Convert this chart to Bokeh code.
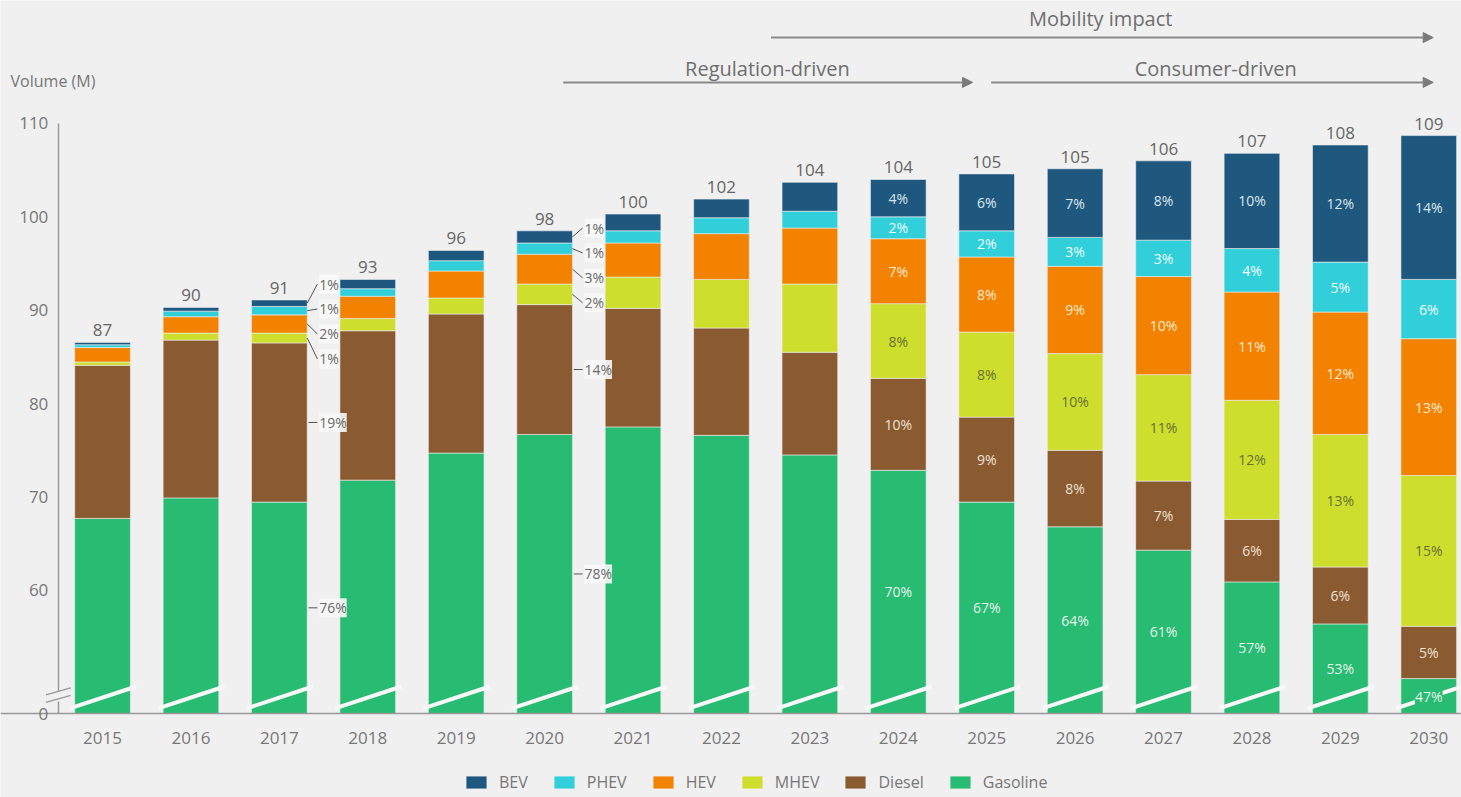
import numpy as np
from bokeh.plotting import figure
from bokeh.models import (Range1d, FixedTicker, Legend, LegendItem, LabelSet, LinearAxis,
                          ColumnDataSource, Arrow, NormalHead, Label)
from bokeh.core.properties import value
from bokeh.embed import file_html
from bokeh.resources import INLINE

# ---------------- data (volumes in millions) ----------------
years = list(range(2015, 2031))
gasoline = [67.7, 69.9, 69.45, 71.8, 74.7, 76.7, 77.5, 76.6, 74.5, 72.85, 69.45, 66.8, 64.3, 60.9, 56.4, 50.55]
diesel = [16.4, 16.9, 17.05, 16.0, 14.9, 13.9, 12.7, 11.5, 11.0, 9.85, 9.1, 8.2, 7.4, 6.7, 6.1, 5.6]
mhev = [0.35, 0.75, 1.05, 1.3, 1.7, 2.2, 3.35, 5.2, 7.3, 8.0, 9.1, 10.35, 11.4, 12.75, 14.2, 16.15]
hev = [1.55, 1.75, 1.95, 2.4, 2.9, 3.2, 3.65, 4.9, 6.0, 6.95, 8.05, 9.35, 10.5, 11.6, 13.1, 14.65]
phev = [0.3, 0.6, 0.9, 0.8, 1.1, 1.2, 1.3, 1.7, 1.8, 2.35, 2.8, 3.1, 3.9, 4.65, 5.35, 6.35]
bev = [0.25, 0.4, 0.7, 1.0, 1.1, 1.3, 1.8, 2.0, 3.1, 4.0, 6.1, 7.35, 8.5, 10.2, 12.55, 15.4]
totals = [87, 90, 91, 93, 96, 98, 100, 102, 104, 104, 105, 105, 106, 107, 108, 109]

series_names = ["Gasoline", "Diesel", "MHEV", "HEV", "PHEV", "BEV"]
legend_order = ["BEV", "PHEV", "HEV", "MHEV", "Diesel", "Gasoline"]

pct_years = [2024, 2025, 2026, 2027, 2028, 2029, 2030]
pct_bev = ["4%", "6%", "7%", "8%", "10%", "12%", "14%"]
pct_phev = ["2%", "2%", "3%", "3%", "4%", "5%", "6%"]
pct_hev = ["7%", "8%", "9%", "10%", "11%", "12%", "13%"]
pct_mhev = ["8%", "8%", "10%", "11%", "12%", "13%", "15%"]
pct_diesel = ["10%", "9%", "8%", "7%", "6%", "6%", "5%"]
pct_gasoline = ["70%", "67%", "64%", "61%", "57%", "53%", "47%"]

callout_years = [2017, 2020]
call_bev = ["1%", "1%"]
call_phev = ["1%", "1%"]
call_hev = ["2%", "3%"]
call_mhev = ["1%", "2%"]
call_diesel = ["19%", "14%"]
call_gasoline = ["76%", "78%"]

yticks = [60, 70, 80, 90, 100, 110]

# ---------------- style ----------------
BREAK = 46.8            # axis origin (axis is broken: shown as "0")
FONT = "Open Sans"
BG = "#f0f0f0"
GRAY = "#777777"
colors = {"Gasoline": "#28bb72", "Diesel": "#8a5a30", "MHEV": "#cddf2c",
          "HEV": "#f38200", "PHEV": "#30cfda", "BEV": "#1f587f"}
text_colors = {"Gasoline": "#e3f6ea", "Diesel": "#efe2d4", "MHEV": "#6a7032",
               "HEV": "#fde9d0", "PHEV": "#eefcfd", "BEV": "#dbe5ee"}

p = figure(frame_width=1461, frame_height=797,
           x_range=Range1d(2013.846, 2030.37), y_range=Range1d(37.81, 123.17),
           output_backend="svg", toolbar_location=None,
           background_fill_color=BG, border_fill_color=BG,
           min_border_left=0, min_border_right=0, min_border_top=0, min_border_bottom=0,
           outline_line_color=None, x_axis_type=None, y_axis_type=None)
p.grid.visible = False

xaxis = LinearAxis(ticker=FixedTicker(ticks=years), fixed_location=BREAK,
                   major_label_overrides={y: str(y) for y in years})
yaxis = LinearAxis(ticker=FixedTicker(ticks=[BREAK] + yticks), fixed_location=2014.5,
                   major_label_overrides={BREAK: "0"}, bounds=(BREAK, 110))
for ax in (xaxis, yaxis):
    ax.axis_line_color = "#999999"
    ax.axis_line_width = 1.5
    ax.major_tick_line_color = None
    ax.minor_tick_line_color = None
    ax.major_tick_out = 0
    ax.major_tick_in = 0
    ax.major_label_text_font = FONT
    ax.major_label_text_font_size = "17px"
    ax.major_label_text_color = GRAY
xaxis.major_label_standoff = 18
yaxis.major_label_standoff = 10
p.add_layout(xaxis, "below")
p.add_layout(yaxis, "left")

# stacked bars (gasoline starts at the broken-axis origin)
stack = np.vstack([gasoline, diesel, mhev, hev, phev, bev])
tops = np.cumsum(stack, axis=0)
bottoms = tops - stack
bottoms[0] = np.maximum(bottoms[0], BREAK)
mids = (tops + bottoms) / 2

rmap = {}
for si, name in enumerate(series_names):
    src = ColumnDataSource(dict(x=years, bottom=bottoms[si], top=tops[si]))
    rmap[name] = p.vbar(x="x", bottom="bottom", top="top", width=0.63, source=src,
                        fill_color=colors[name], line_color=BG, line_width=0.6)

# axis-break stripes across the bars
yr = np.array(years, dtype=float)
p.segment(x0=yr - 0.37, y0=BREAK + 0.55, x1=yr + 0.38, y1=BREAK + 2.9,
          line_color="#f8f8f8", line_width=4)

# totals above bars
tot_src = ColumnDataSource(dict(x=years, y=tops[-1], t=[str(t) for t in totals]))
p.add_layout(LabelSet(x="x", y="y", text="t", source=tot_src, y_offset=6,
                      text_align="center", text_baseline="bottom",
                      text_font=value(FONT), text_font_size="17px", text_color="#666666"))

# percent labels inside bars
pct = {"BEV": pct_bev, "PHEV": pct_phev, "HEV": pct_hev, "MHEV": pct_mhev,
       "Diesel": pct_diesel, "Gasoline": pct_gasoline}
for si, name in enumerate(series_names):
    lx, ly, lt = [], [], []
    for j, yv in enumerate(pct_years):
        idx = years.index(yv)
        lx.append(yv); ly.append(mids[si, idx]); lt.append(pct[name][j])
    p.add_layout(LabelSet(x="x", y="y", text="t", source=ColumnDataSource(dict(x=lx, y=ly, t=lt)),
                          text_color=text_colors[name], text_align="center", text_baseline="middle",
                          background_fill_color=colors[name] if name == "Gasoline" else None,
                          text_font=value(FONT), text_font_size="14px"))

# callouts to the right of 2017 and 2020
calls = {"BEV": call_bev, "PHEV": call_phev, "HEV": call_hev, "MHEV": call_mhev,
         "Diesel": call_diesel, "Gasoline": call_gasoline}
callout_top = [92.8, 98.8]
cx, cy, ct = [], [], []
sx0, sy0, sx1, sy1 = [], [], [], []
for k, yv in enumerate(callout_years):
    idx = years.index(yv)
    for j, name in enumerate(["BEV", "PHEV", "HEV", "MHEV"]):
        si = series_names.index(name)
        lyv = callout_top[k] - j * 2.67
        cx.append(yv + 0.45); cy.append(lyv); ct.append(calls[name][k])
        sx0.append(yv + 0.315); sy0.append(mids[si, idx]); sx1.append(yv + 0.43); sy1.append(lyv)
    for name in ["Diesel", "Gasoline"]:
        si = series_names.index(name)
        cx.append(yv + 0.45); cy.append(mids[si, idx]); ct.append(calls[name][k])
        sx0.append(yv + 0.33); sy0.append(mids[si, idx]); sx1.append(yv + 0.43); sy1.append(mids[si, idx])
p.segment(x0=sx0, y0=sy0, x1=sx1, y1=sy1, line_color="#555555", line_width=1)
p.add_layout(LabelSet(x="x", y="y", text="t", source=ColumnDataSource(dict(x=cx, y=cy, t=ct)),
                      text_align="left", text_baseline="middle", text_color="#6a6a6a",
                      background_fill_color="#f8f8f8", background_fill_alpha=0.9,
                      text_font=value(FONT), text_font_size="14px"))

# phase arrows and labels
phase_arrows = [(2022.56, 2030.05, 119.2), (2020.21, 2024.84, 114.4), (2025.05, 2030.05, 114.4)]
for x0, x1, ya in phase_arrows:
    p.add_layout(Arrow(x_start=x0, y_start=ya, x_end=x1, y_end=ya, line_color="#8a8a8a", line_width=2,
                       end=NormalHead(size=10, fill_color="#7a7a7a", line_color="#7a7a7a")))
phase_texts = [("Mobility impact", 2026.29, 121.2), ("Regulation-driven", 2022.52, 115.9),
               ("Consumer-driven", 2027.59, 115.9)]
for t, xt, ytt in phase_texts:
    p.add_layout(Label(x=xt, y=ytt, text=t, text_align="center", text_baseline="middle",
                       text_font=FONT, text_font_size="20px", text_color="#6e6e6e"))

p.add_layout(Label(x=2013.96, y=114.6, text="Volume (M)", text_align="left", text_baseline="middle",
                   text_font=FONT, text_font_size="16px", text_color=GRAY))

# y-axis break marks
p.add_layout(Arrow(x_start=2014.5, y_start=BREAK + 1.3, x_end=2014.5, y_end=BREAK + 2.3,
                   line_color=BG, line_width=5, end=None))
for dy in (1.2, 2.0):
    p.add_layout(Arrow(x_start=2014.36, y_start=BREAK + dy, x_end=2014.64, y_end=BREAK + dy + 0.75,
                       line_color="#999999", line_width=1.5, end=None))

legend = Legend(items=[LegendItem(label=n, renderers=[rmap[n]]) for n in legend_order],
                orientation="horizontal", location=(463, 4),
                glyph_width=26, glyph_height=16, label_standoff=10, spacing=23,
                label_text_font=FONT, label_text_font_size="16px", label_text_color=GRAY,
                background_fill_alpha=0, border_line_color=None, padding=0, margin=0)
p.add_layout(legend, "center")

open("out.html", "w").write(file_html(p, INLINE))
